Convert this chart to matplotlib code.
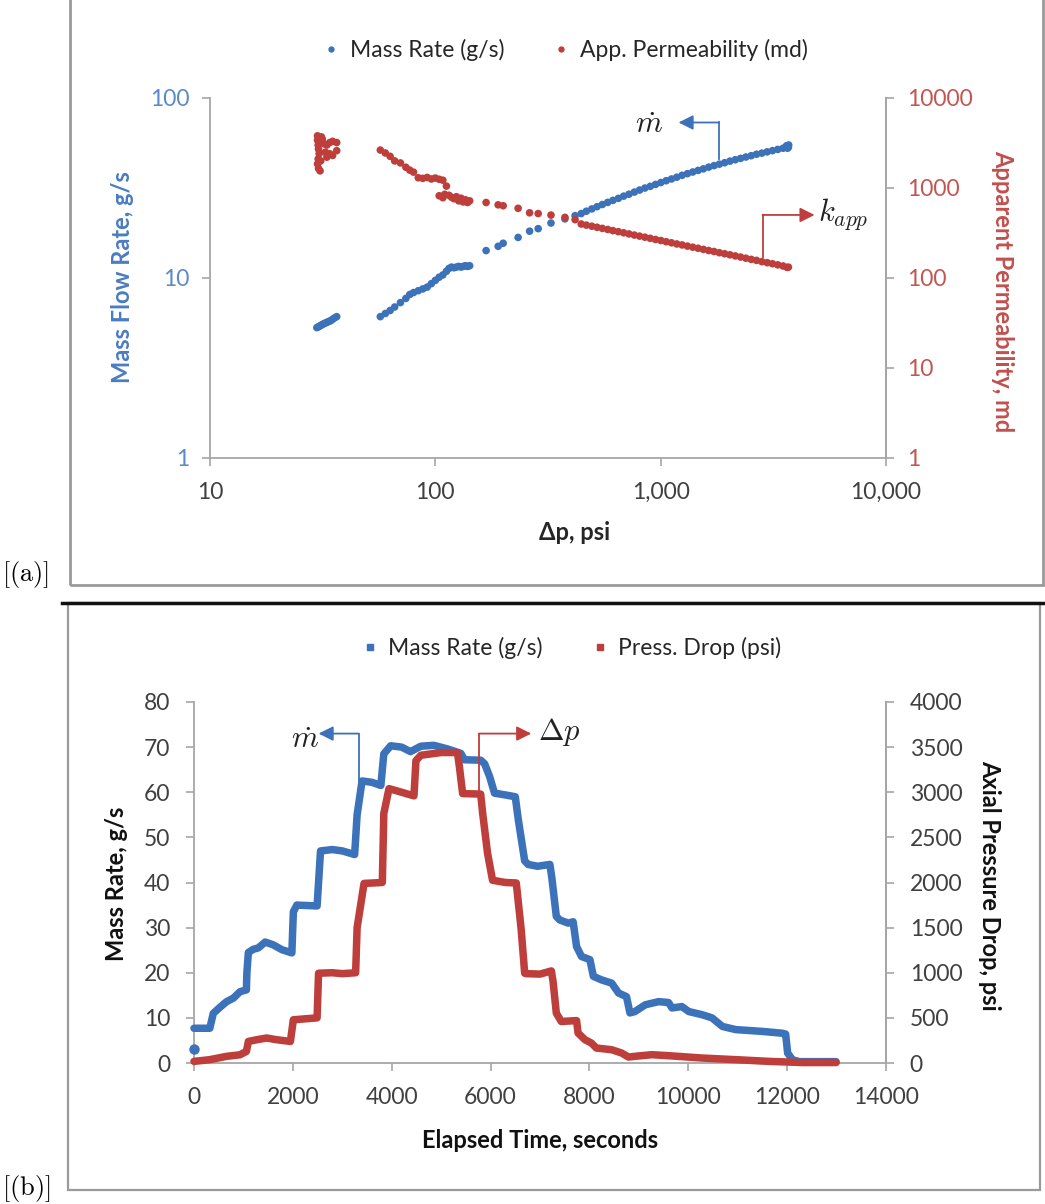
import numpy as np
import matplotlib
matplotlib.use('Agg')
import matplotlib.pyplot as plt
from matplotlib.lines import Line2D
from matplotlib.patches import Rectangle
from matplotlib.ticker import FixedLocator, FixedFormatter, NullLocator

plt.rcParams['font.family'] = ['Lato', 'DejaVu Sans']
plt.rcParams['mathtext.fontset'] = 'cm'

# ---------------- data: panel (a) ----------------
dp_mass = [29.8, 30.2, 30.6, 31.0, 31.4, 31.8, 32.3, 32.8, 33.3, 33.8, 34.4, 35.0, 35.7, 36.5,
           57, 60, 63, 66, 70, 74, 77, 80, 84, 88, 92, 96, 100, 104, 108, 112, 115, 118, 121,
           124, 127, 130, 133, 136, 139, 142,
           168, 190, 200, 233, 262, 286, 326, 376, 417,
           444, 468, 495, 522, 551, 582, 614, 649, 685, 723, 764, 806, 851, 899, 949, 1002,
           1058, 1117, 1179, 1245, 1315, 1388, 1466, 1547, 1634, 1725, 1821, 1923, 2030, 2144,
           2263, 2389, 2523, 2663, 2812, 2969, 3135, 3310, 3494, 3690, 3620, 3700, 3660]
mass_rate = [5.3, 5.35, 5.4, 5.45, 5.5, 5.55, 5.6, 5.65, 5.7, 5.75, 5.8, 5.9, 6.0, 6.1,
             6.1, 6.35, 6.6, 6.9, 7.3, 7.7, 8.1, 8.3, 8.5, 8.7, 8.9, 9.3, 9.7, 10.1, 10.4,
             10.9, 11.3, 11.5, 11.4, 11.5, 11.6, 11.5, 11.6, 11.7, 11.6, 11.7,
             14.2, 15.0, 15.6, 16.8, 18.2, 18.8, 20.2, 21.3, 22.2,
             22.8, 23.5, 24.2, 24.9, 25.6, 26.3, 27.0, 27.7, 28.5, 29.2, 30.0, 30.8, 31.6,
             32.3, 33.1, 33.9, 34.7, 35.5, 36.3, 37.2, 38.0, 38.8, 39.6, 40.4, 41.3, 42.1,
             42.9, 43.7, 44.6, 45.4, 46.2, 47.0, 47.8, 48.7, 49.4, 50.2, 51.0, 51.8, 52.6,
             53.3, 54.3, 54.8, 52.6]

dp_perm = [30.0, 30.0, 30.2, 30.3, 30.5, 30.2, 30.0, 30.3, 30.8, 31.0, 31.5, 31.2, 32.0,
           33.0, 34.0, 35.0, 36.5, 32.5, 34.0, 36.5, 35.0, 33.0,
           57, 60, 63, 66, 70, 74, 77, 80, 84, 88, 92, 96, 100, 104, 108, 112, 115, 118, 121,
           124, 127, 130, 133, 136, 139, 142, 104, 108, 110,
           168, 190, 200, 233, 262, 286, 326, 376, 417,
           444, 468, 495, 522, 551, 582, 614, 649, 685, 723, 764, 806, 851, 899, 949, 1002,
           1058, 1117, 1179, 1245, 1315, 1388, 1466, 1547, 1634, 1725, 1821, 1923, 2030, 2144,
           2263, 2389, 2523, 2663, 2812, 2969, 3135, 3310, 3494, 3690, 3640]
app_perm = [3800, 3400, 3000, 2700, 2400, 2100, 1850, 1650, 1550, 2000, 3500, 3700, 3100,
            3000, 3200, 3300, 3200, 2500, 2400, 2600, 2300, 2200,
            2640, 2450, 2250, 2000, 1900, 1700, 1580, 1500, 1300, 1280, 1310, 1260, 1290,
            1250, 1220, 1050, 830, 790, 760, 800, 720, 770, 700, 740, 690, 720, 820, 780, 850,
            690, 650, 635, 595, 530, 520, 500, 472, 445,
            398, 387, 376, 366, 356, 346, 336, 327, 318, 309, 300, 292, 284, 276, 268, 261,
            253, 246, 239, 233, 226, 220, 214, 208, 202, 197, 191, 186, 181, 176, 171, 166,
            161, 157, 152, 148, 144, 140, 136, 132, 131]

a_xticks = [10, 100, 1000, 10000]
a_xlabels = ['10', '100', '1,000', '10,000']
a_yticks_l = [1, 10, 100]
a_ylabels_l = ['1', '10', '100']
a_yticks_r = [1, 10, 100, 1000, 10000]
a_ylabels_r = ['1', '10', '100', '1000', '10000']

# ---------------- data: panel (b) ----------------
time_mass = [0, 0, 320, 390, 520, 660, 800, 930, 1060, 1070, 1100, 1200, 1300, 1440, 1600,
             1780, 1980, 2010, 2080, 2490, 2560, 2800, 3000, 3250, 3300, 3400, 3600, 3780,
             3840, 3980, 4200, 4380, 4590, 4850, 5130, 5400, 5470, 5800, 5880, 5980, 6080,
             6300, 6500, 6560, 6690, 6760, 6950, 7200, 7240, 7330, 7400, 7570, 7670, 7740,
             7840, 8010, 8080, 8250, 8450, 8590, 8750, 8820, 8920, 9130, 9400, 9600, 9670,
             9870, 10010, 10280, 10480, 10690, 10960, 11500, 11900, 11970, 12010, 12110,
             12250, 12990]
mass_gs = [3.0, 7.7, 7.7, 11.0, 12.3, 13.6, 14.4, 15.8, 16.2, 20.0, 24.5, 25.2, 25.5, 26.8,
           26.2, 25.1, 24.4, 33.5, 35.0, 34.8, 47.0, 47.3, 47.0, 46.2, 55.0, 62.5, 62.2, 61.5,
           68.5, 70.3, 70.0, 69.0, 70.2, 70.4, 69.6, 68.6, 67.2, 67.1, 66.3, 63.5, 59.8,
           59.4, 59.0, 54.0, 44.8, 44.0, 43.6, 44.0, 41.0, 32.5, 31.7, 31.0, 31.3, 25.8,
           23.6, 22.9, 19.2, 18.4, 17.7, 15.5, 14.7, 11.1, 11.4, 12.9, 13.6, 13.4, 12.2,
           12.5, 11.4, 10.7, 10.0, 8.1, 7.4, 7.0, 6.6, 6.4, 2.2, 0.7, 0.3, 0.3]

time_press = [0, 320, 660, 930, 1060, 1100, 1270, 1470, 1670, 1950, 2010, 2490, 2520, 2800,
              3000, 3270, 3300, 3440, 3810, 3840, 3945, 4200, 4450, 4490, 4590, 5000, 5330,
              5370, 5435, 5800, 5840, 5940, 6040, 6300, 6520, 6620, 6690, 6720, 7000, 7230,
              7265, 7330, 7430, 7740, 7770, 7910, 8040, 8140, 8450, 8650, 8790, 8920, 9260,
              9600, 10280, 10960, 11630, 12310, 12990]
press_psi = [18, 37, 74, 91, 128, 239, 258, 277, 258, 239, 479, 500, 995, 1000, 990, 1000,
             1500, 1990, 2000, 2765, 3040, 3000, 2960, 3350, 3410, 3440, 3440, 3280, 2985,
             2980, 2765, 2320, 2025, 2000, 1995, 1475, 995, 990, 985, 1020, 900, 553, 460,
             470, 332, 258, 221, 166, 147, 111, 66, 74, 92, 81, 55, 37, 18, 5, 5]

b_xticks = [0, 2000, 4000, 6000, 8000, 10000, 12000, 14000]
b_yticks_l = [0, 10, 20, 30, 40, 50, 60, 70, 80]
b_yticks_r = [0, 500, 1000, 1500, 2000, 2500, 3000, 3500, 4000]

# ---------------- style ----------------
BLUE = '#3C72B9'
RED = '#BE3E3B'
BLUE_T = '#5A8BC8'
RED_T = '#C45652'
SPINE = '#A6A6A6'
TXT = '#404040'
TICKFS = 16.5
LABFS = 17

W, H = 1045, 1204
fig = plt.figure(figsize=(W / 100, H / 100), dpi=100)


def fx(px):
    return px / W


def fy(py):
    return 1 - py / H


def style_axes(ax):
    for s in ['top']:
        ax.spines[s].set_visible(False)
    for s in ['left', 'right', 'bottom']:
        ax.spines[s].set_color(SPINE)
        ax.spines[s].set_linewidth(1.3)
    ax.tick_params(direction='out', length=6, width=1.2, color=SPINE, pad=9,
                   labelsize=TICKFS)


# panel boxes
fig.add_artist(Rectangle((fx(70), fy(585)), fx(1043) - fx(70), fy(-3) - fy(585),
                         transform=fig.transFigure, fill=False, ec='#9A9A9A', lw=2.0))
fig.add_artist(Rectangle((fx(68), fy(1190)), fx(1040) - fx(68), fy(603) - fy(1190),
                         transform=fig.transFigure, fill=False, ec='#9A9A9A', lw=1.6))
fig.add_artist(Line2D([fx(62), fx(1045)], [fy(603), fy(603)], transform=fig.transFigure,
                      color='#111111', lw=2.5))
fig.text(fx(2), fy(575), r'$[(\mathrm{a})]$', fontsize=19, ha='left', va='center')
fig.text(fx(2), fy(1188), r'$[(\mathrm{b})]$', fontsize=19, ha='left', va='center')

# ---------------- panel (a) ----------------
ax1 = fig.add_axes([fx(210), fy(458), fx(886) - fx(210), fy(98) - fy(458)])
ax2 = ax1.twinx()
for ax in (ax1, ax2):
    style_axes(ax)
ax1.set_xscale('log')
ax1.set_yscale('log')
ax2.set_yscale('log')
ax1.set_xlim(10, 10000)
ax1.set_ylim(1, 100)
ax2.set_ylim(1, 10000)

ax1.scatter(dp_mass, mass_rate, s=30, color=BLUE, edgecolors='none', zorder=3)
ax2.scatter(dp_perm, app_perm, s=30, color=RED, edgecolors='none', zorder=3)

ax1.xaxis.set_major_locator(FixedLocator(a_xticks))
ax1.xaxis.set_major_formatter(FixedFormatter(a_xlabels))
ax1.xaxis.set_minor_locator(NullLocator())
ax1.yaxis.set_major_locator(FixedLocator(a_yticks_l))
ax1.yaxis.set_major_formatter(FixedFormatter(a_ylabels_l))
ax1.yaxis.set_minor_locator(NullLocator())
ax2.yaxis.set_major_locator(FixedLocator(a_yticks_r))
ax2.yaxis.set_major_formatter(FixedFormatter(a_ylabels_r))
ax2.yaxis.set_minor_locator(NullLocator())
ax1.tick_params(axis='x', labelcolor=TXT, pad=11)
ax1.tick_params(axis='y', labelcolor=BLUE_T)
ax2.tick_params(axis='y', labelcolor=RED_T)
ax2.spines['left'].set_visible(False)
ax2.spines['bottom'].set_visible(False)

# annotations (a)
ax1.plot([1815, 1815], [45.8, 73.1], color=BLUE, lw=1.3, zorder=4)
ax1.annotate('', xy=(1200, 73.1), xytext=(1815, 73.1),
             arrowprops=dict(arrowstyle='-|>', color=BLUE, lw=1.3, mutation_scale=22,
                             shrinkA=0, shrinkB=0))
ax1.text(890, 72, r'$\dot{m}$', fontsize=22, ha='center', va='center', color='#222222')
ax1.plot([2833, 2833], [13.0, 22.4], color=RED, lw=1.3, zorder=4)
ax1.annotate('', xy=(4820, 22.4), xytext=(2833, 22.4),
             arrowprops=dict(arrowstyle='-|>', color=RED, lw=1.3, mutation_scale=22,
                             shrinkA=0, shrinkB=0))
ax1.text(5000, 22.6, r'$k_{app}$', fontsize=22, ha='left', va='center', color='#222222',
         clip_on=False)

fig.text(fx(123), fy(277), 'Mass Flow Rate, g/s', rotation=90, ha='center', va='center',
         fontsize=LABFS, fontweight='bold', color='#4A7CC0')
fig.text(fx(1003), fy(291), 'Apparent Permeability, md', rotation=270, ha='center',
         va='center', fontsize=LABFS, fontweight='bold', color='#C0504D')
fig.text(fx(575), fy(532), 'Δp, psi', ha='center', va='center', fontsize=LABFS,
         fontweight='bold', color='#262626')

h1 = [Line2D([], [], ls='none', marker='o', ms=3.5, color=BLUE),
      Line2D([], [], ls='none', marker='o', ms=3.5, color=RED)]
fig.legend(h1, ['Mass Rate (g/s)', 'App. Permeability (md)'], loc='center',
           bbox_to_anchor=(fx(566), fy(50)), ncol=2, frameon=False, fontsize=16.5,
           handlelength=0.6, handletextpad=0.5, columnspacing=2.2, labelcolor='#262626')

# ---------------- panel (b) ----------------
ax3 = fig.add_axes([fx(194), fy(1063), fx(886) - fx(194), fy(702) - fy(1063)])
ax4 = ax3.twinx()
for ax in (ax3, ax4):
    style_axes(ax)
ax3.set_xlim(0, 14000)
ax3.set_ylim(0, 80)
ax4.set_ylim(0, 4000)
ax4.spines['left'].set_visible(False)
ax4.spines['bottom'].set_visible(False)

ax3.plot(time_mass[1:], mass_gs[1:], color=BLUE, lw=5.4, solid_joinstyle='round',
         solid_capstyle='round', zorder=3, clip_on=False)
ax3.plot(time_mass[:1], mass_gs[:1], ls='none', marker='o', ms=6.5, color=BLUE,
         zorder=3, clip_on=False)
ax4.plot(time_press, press_psi, color=RED, lw=5.4, solid_joinstyle='round',
         solid_capstyle='round', zorder=3, clip_on=False)

ax3.xaxis.set_major_locator(FixedLocator(b_xticks))
ax3.yaxis.set_major_locator(FixedLocator(b_yticks_l))
ax4.yaxis.set_major_locator(FixedLocator(b_yticks_r))
ax3.tick_params(axis='both', labelcolor=TXT, pad=11)
ax4.tick_params(axis='y', labelcolor=TXT, pad=11)

# annotations (b)
ax3.plot([3333, 3333], [61.0, 73.0], color=BLUE, lw=1.3, zorder=4)
ax3.annotate('', xy=(2520, 73.0), xytext=(3333, 73.0),
             arrowprops=dict(arrowstyle='-|>', color=BLUE, lw=1.3, mutation_scale=22,
                             shrinkA=0, shrinkB=0))
ax3.text(2240, 71.8, r'$\dot{m}$', fontsize=22, ha='center', va='center', color='#222222')
ax3.plot([5760, 5760], [59.4, 73.0], color=RED, lw=1.3, zorder=4)
ax3.annotate('', xy=(6823, 73.0), xytext=(5760, 73.0),
             arrowprops=dict(arrowstyle='-|>', color=RED, lw=1.3, mutation_scale=22,
                             shrinkA=0, shrinkB=0))
ax3.text(6960, 73.3, r'$\Delta p$', fontsize=22, ha='left', va='center', color='#222222')

fig.text(fx(116), fy(884), 'Mass Rate, g/s', rotation=90, ha='center', va='center',
         fontsize=LABFS, fontweight='bold', color='#111111')
fig.text(fx(990), fy(885), 'Axial Pressure Drop, psi', rotation=270, ha='center',
         va='center', fontsize=LABFS, fontweight='bold', color='#111111')
fig.text(fx(540), fy(1141), 'Elapsed Time, seconds', ha='center', va='center',
         fontsize=LABFS, fontweight='bold', color='#111111')

h2 = [Line2D([], [], ls='none', marker='s', ms=4, color=BLUE),
      Line2D([], [], ls='none', marker='s', ms=4, color=RED)]
fig.legend(h2, ['Mass Rate (g/s)', 'Press. Drop (psi)'], loc='center',
           bbox_to_anchor=(fx(572), fy(648)), ncol=2, frameon=False, fontsize=16.5,
           handlelength=0.6, handletextpad=0.5, columnspacing=2.2, labelcolor='#262626')

fig.savefig('out.png', dpi=100)
